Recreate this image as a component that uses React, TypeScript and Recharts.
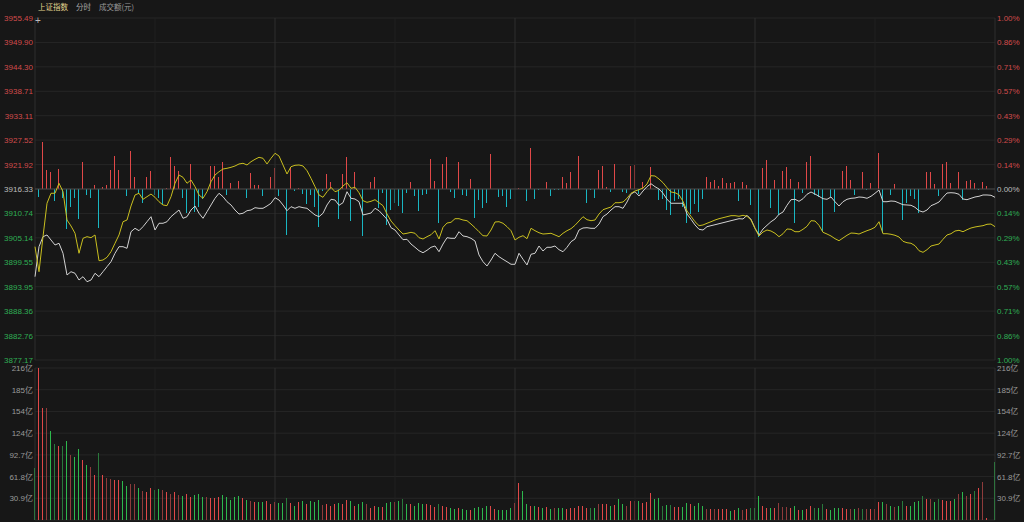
import { ComposedChart, Bar, Line, XAxis, YAxis, CartesianGrid, ReferenceLine } from "recharts"

// 上证指数 intraday (分时), one point per minute, 9:30 .. 15:00
const PREV_CLOSE = 3916.33

const priceTicks = [
  3877.17, 3882.76, 3888.36, 3893.95, 3899.55, 3905.14, 3910.74, 3916.33,
  3921.92, 3927.52, 3933.11, 3938.71, 3944.3, 3949.9, 3955.49,
]
const volumeTicks = [30.9, 61.8, 92.7, 123.6, 154.5, 185.4, 216.3]
const volumeTickLabels = ["30.9亿", "61.8亿", "92.7亿", "124亿", "154亿", "185亿", "216亿"]
const minorTimeTicks = [30, 90, 150, 210]
const majorTimeTicks = [60, 120, 180]

const priceLine = [
  3896.25, 3903.12, 3905.41, 3905.8, 3904.65, 3903.51, 3903.9, 3901.61, 3896.64, 3897.39,
  3897.03, 3895.49, 3896.25, 3895.1, 3895.49, 3897.03, 3896.25, 3897.39, 3898.54, 3899.68,
  3901.61, 3903.12, 3903.12, 3902.75, 3906.55, 3907.33, 3906.78, 3907.7, 3908.84, 3909.99,
  3906.94, 3908.48, 3908.48, 3908.84, 3909.99, 3910.77, 3911.52, 3909.62, 3909.99, 3911.52,
  3912.44, 3910.77, 3909.62, 3911.13, 3912.67, 3914.2, 3915.35, 3914.57, 3913.42, 3912.67,
  3911.52, 3910.6, 3910.77, 3911.36, 3911.52, 3912.05, 3911.91, 3911.91, 3912.44, 3913.06,
  3914.34, 3913.81, 3912.67, 3911.36, 3912.28, 3911.91, 3912.28, 3912.05, 3911.91, 3911.13,
  3910.38, 3909.99, 3910.77, 3912.67, 3913.97, 3913.81, 3912.6, 3913.19, 3915.71, 3914.2,
  3914.04, 3913.42, 3910.38, 3910.6, 3910.83, 3911.91, 3911.36, 3910.38, 3909.39, 3907.47,
  3906.94, 3905.8, 3904.72, 3904.81, 3903.73, 3902.98, 3902.2, 3901.74, 3902.29, 3902.98,
  3903.28, 3901.97, 3903.73, 3905.18, 3905.04, 3905.04, 3906.55, 3905.57, 3905.41, 3905.04,
  3904.42, 3901.22, 3899.68, 3898.7, 3900.07, 3901.61, 3900.83, 3900.23, 3899.68, 3899.09,
  3899.09, 3901.61, 3900.23, 3898.93, 3901.38, 3901.61, 3903.28, 3902.13, 3902.98, 3902.98,
  3903.28, 3902.43, 3901.97, 3902.98, 3904.26, 3904.88, 3906.94, 3907.4, 3907.47, 3907.33,
  3907.33, 3908.31, 3909.99, 3910.6, 3911.52, 3912.28, 3912.28, 3911.91, 3913.35, 3915.18,
  3915.71, 3914.73, 3915.87, 3916.86, 3917.54, 3916.86, 3916.33, 3915.35, 3913.97, 3913.06,
  3913.06, 3913.06, 3913.06, 3910.6, 3909.39, 3908.09, 3907.1, 3906.94, 3907.7, 3907.93,
  3908.15, 3908.38, 3908.61, 3908.84, 3909.07, 3909.3, 3909.53, 3909.46, 3910.31, 3909.39,
  3907.33, 3905.8, 3907.17, 3908.02, 3908.84, 3909.46, 3910.54, 3911.06, 3912.6, 3913.88,
  3913.97, 3913.51, 3914.11, 3915.12, 3915.64, 3915.18, 3914.66, 3914.11, 3913.97, 3914.5,
  3913.42, 3912.44, 3913.42, 3913.97, 3914.2, 3914.27, 3914.5, 3914.43, 3914.2, 3914.66,
  3915.35, 3916.1, 3913.42, 3913.42, 3913.58, 3913.51, 3913.12, 3912.73, 3912.67, 3912.6,
  3912.14, 3911.36, 3911.06, 3911.52, 3912.51, 3912.89, 3913.35, 3914.43, 3915.41, 3915.48,
  3915.41, 3915.12, 3914.04, 3913.88, 3914.2, 3914.5, 3914.66, 3914.96, 3914.96, 3914.89,
  3914.43,
]

const avgLine = [
  3903.12, 3897.39, 3905.41, 3913.06, 3915.35, 3915.35, 3917.64, 3915.71, 3909.23, 3907.86,
  3906.19, 3901.61, 3905.04, 3905.41, 3905.18, 3905.8, 3899.91, 3900.07, 3900.69, 3901.97,
  3903.9, 3905.8, 3908.84, 3909.23, 3912.44, 3914.96, 3915.35, 3913.97, 3914.57, 3915.18,
  3914.43, 3913.42, 3912.67, 3912.51, 3914.57, 3917.64, 3919.54, 3919.01, 3917.64, 3918.39,
  3916.86, 3914.96, 3914.2, 3915.71, 3918.0, 3919.54, 3920.29, 3920.91, 3921.07, 3921.3,
  3921.6, 3922.06, 3922.22, 3921.83, 3922.58, 3923.13, 3923.59, 3923.36, 3922.06, 3923.36,
  3924.51, 3923.89, 3921.83, 3919.77, 3921.44, 3921.76, 3921.83, 3921.6, 3920.52, 3918.78,
  3916.86, 3914.96, 3914.43, 3915.71, 3916.72, 3915.71, 3916.03, 3917.02, 3917.77, 3916.49,
  3916.72, 3915.48, 3913.65, 3913.28, 3913.51, 3913.88, 3913.19, 3912.51, 3910.6, 3909.0,
  3907.93, 3906.94, 3906.02, 3906.19, 3906.41, 3906.19, 3905.18, 3904.88, 3905.41, 3905.86,
  3906.78, 3904.88, 3907.56, 3908.54, 3908.7, 3909.53, 3909.53, 3909.23, 3909.07, 3908.31,
  3907.47, 3906.55, 3905.64, 3905.57, 3906.94, 3908.77, 3908.84, 3908.48, 3907.7, 3906.78,
  3904.65, 3905.27, 3905.64, 3904.95, 3907.33, 3906.78, 3906.32, 3906.02, 3906.09, 3906.19,
  3905.8, 3905.41, 3906.19, 3906.78, 3907.24, 3908.02, 3909.0, 3909.99, 3909.3, 3909.07,
  3909.23, 3910.6, 3911.59, 3911.91, 3912.21, 3913.19, 3913.19, 3913.35, 3914.2, 3915.35,
  3915.87, 3916.17, 3916.56, 3917.48, 3919.38, 3919.31, 3918.62, 3917.77, 3916.63, 3915.64,
  3915.48, 3915.02, 3913.51, 3911.29, 3910.08, 3908.84, 3907.93, 3908.09, 3908.48, 3908.84,
  3909.23, 3909.53, 3909.76, 3909.99, 3910.22, 3910.22, 3910.08, 3910.31, 3910.08, 3909.23,
  3907.33, 3905.57, 3906.48, 3906.94, 3906.71, 3906.19, 3905.41, 3906.09, 3907.17, 3907.1,
  3906.55, 3906.55, 3907.1, 3907.79, 3909.07, 3909.0, 3908.02, 3906.41, 3906.02, 3905.57,
  3904.95, 3904.49, 3905.11, 3905.73, 3906.25, 3906.19, 3906.02, 3906.41, 3906.78, 3907.1,
  3907.56, 3908.84, 3906.09, 3906.09, 3905.96, 3905.73, 3905.34, 3904.35, 3904.03, 3903.9,
  3903.35, 3902.2, 3901.83, 3902.43, 3903.28, 3903.51, 3903.73, 3904.81, 3905.8, 3906.09,
  3906.71, 3906.87, 3906.55, 3907.01, 3907.4, 3907.63, 3907.79, 3907.93, 3908.25, 3908.31,
  3907.7,
]

// up/down bars around the previous close, scale -100..100
const flowBars = [
  0, -4.9, 27.7, 11, 9.7, -6.8, 11.5, -5.5, -23.6, -10.3,
  -5.5, -17.5, 15.6, -3.5, -5.5, 2.3, -23, 1, 2.3, 11,
  19.3, 11.3, 0, -4.1, 22.2, 7.2, -2.9, -8.4, 7.2, 10.7,
  -3.5, -5.5, -9, 0.5, 18.5, 13.5, 10.4, -5.5, -13.8, 14.6,
  -13.3, -10.3, -6, 0, 13.3, 13.7, 6.8, 16, -3.5, 3.3,
  0, 4.7, 0, -5.5, 9.5, 2.3, 2.3, -4.1, 0, 7.2,
  12.4, -4.1, 0, -26.9, 12.6, -1, 0.5, -2.9, -8.8, -3.5,
  -10.3, -22, -1, 8.8, 3.9, 0, -17.5, 8.8, 18.5, -19,
  10, 0, -27.3, 0, 4.3, 7.2, -11.3, -2.5, -21, -12.3,
  -8.4, -9.7, -13.8, -2.5, 4.3, -3.9, -12.8, -3.5, -2.9, 17.5,
  4.7, -19.7, 14.6, 18.5, -1.6, -5.5, 15.6, -3.5, -4.1, 6,
  -17, -6.4, -11.3, -8.4, 20.5, 0, -4.9, -4.1, -10.7, -6,
  0, 0.5, 0, -7, 23.8, -6, -0.5, 0, 4.3, -4.1,
  -0.5, -0.5, 7.2, 3.3, 10, 0, 19.5, 0, -8.4, -0.8,
  -5.5, 11, 13.7, 1.4, -2, 14.6, 0, -1.5, -2.5, 13.7,
  14, -2.9, 3.9, 0, 12.6, 0, -6.4, -6, -12.3, -15,
  -7, -6, -10.3, -19.7, -14.6, -8.8, -13.3, -6, 7.2, 4.3,
  5.3, 2, 6.2, 3.3, 3.3, 3.9, -6.8, 3.9, 2.3, -9.4,
  0, -27.9, 12, 17, -11.3, 5.3, -15.2, 10.7, 13, 6,
  -20, 3.9, -2.5, 16, 19.5, -3.5, -4.5, -24.4, 0, -4.9,
  -13.3, 0, 10.7, 13.7, 5.3, -3.5, 0, 9.7, -0.8, 3.3,
  0, 21.2, -26, 0, -3.5, 2.9, 0, -18, -8, -4,
  -6, -14, 0, 9.7, 10, 2.9, -4.1, 14.6, 16, 3.3,
  0, 9.7, -6.4, 4.9, 5.3, 3.3, -0.8, 4.3, 2, 0,
  0,
]

// 成交额, 亿元
const volume = [
  73.6, 216, 159, 159, 126.7, 108, 105.8, 106, 112, 93,
  89.2, 101.6, 85, 78.3, 75.5, 63.6, 95.4, 64.5, 59.3, 58,
  57, 57, 55, 48.4, 51.3, 51.7, 46, 41.3, 39.9, 46,
  43.2, 43.7, 42.7, 40.4, 36.5, 40, 35.6, 33.7, 36.5, 33,
  35, 36.8, 33, 33, 31.3, 31.7, 33, 36, 33, 29,
  33, 33.7, 30.8, 28.5, 27, 26, 25.6, 26, 27, 23.3,
  25, 24.5, 24.5, 31.3, 24.5, 20.4, 25, 27, 22.3, 27.5,
  25.6, 28.5, 21.8, 23, 20, 23, 23.7, 23, 28.5, 27.5,
  19.5, 22.3, 25.6, 23, 17.6, 20, 18.5, 18.5, 24.5, 25.6,
  26, 27.5, 29.4, 23.3, 23, 20, 24.5, 22.3, 23.3, 21.8,
  18.5, 23, 20.4, 18.5, 17, 15.2, 17, 15.2, 14.2, 14.2,
  17, 18.5, 17.6, 19.5, 20, 15.2, 14.2, 14.2, 14.2, 17,
  24.5, 53, 41.3, 23, 20, 20, 18.5, 17, 18.5, 16,
  17.6, 17, 17.6, 16, 17, 17, 20.4, 20.4, 17.6, 17.6,
  17, 22.3, 23, 23, 19.5, 21.8, 29.4, 23, 19.5, 27.5,
  27, 27, 24.5, 25, 38.4, 29.9, 31.3, 20, 21.8, 21.8,
  18.5, 18.5, 18.5, 24.5, 23, 20, 24.5, 20, 15.2, 15.2,
  16, 15.2, 15.2, 15.2, 13.3, 14.2, 17, 14.2, 15.2, 17.6,
  17, 33.7, 20, 17, 17, 17.6, 24.5, 18.5, 18.5, 17,
  20, 14.2, 14.2, 15.2, 20, 17, 17, 23, 15.6, 14.2,
  17.6, 17.6, 17.6, 16, 16, 16, 17, 15.6, 15.6, 16,
  16, 26, 25.6, 23, 20, 18.5, 20.4, 27.5, 20.4, 20,
  25, 27.5, 34.6, 29.9, 29.4, 25.6, 29.9, 28.5, 27.5, 27.5,
  29.9, 37, 40, 34.2, 37, 41.3, 45.6, 54, 2.8, 0,
  82.6,
]

// r = up, g = down, upper case = weak
const volumeDir =
  "grrRgGrGgR" + "ggrgRrGrRR" + "rrggRRgRrr" + "ggRrRrRgrr" + "gggRrrrggg" +
  "ggrgRrggrr" + "rggGrgrgrg" + "ggRrrrgrrg" + "rggRrrgrgg" + "rgGgrgggrr" +
  "rGrrggrggr" + "ggggrrgggg" + "rrggrgrgrg" + "RggrrrrrrG" + "gRrrgrggRr" +
  "RgrrrggGgG" + "rrggrgggRr" + "RrrrgrgRrG" + "ggrrgrRRRr" + "grgrrGgGrg" +
  "ggrrRgRGRr" + "rrgRgRgGrg" + "ggGrRgGrrr" + "gRgRrGrRrr" + "g"

const BG = "#171717"
const GRID = "#262626"
const RED = "#e04848"
const GREEN = "#2db84d"
const FONT = "'Liberation Sans', 'Noto Sans CJK SC', sans-serif"

const dirColor: Record<string, string> = {
  r: RED,
  R: "#8e3b3b",
  g: GREEN,
  G: "#2a7a3c",
}

const data = priceLine.map((p, i) => ({
  t: i,
  price: p,
  avg: avgLine[i],
  flow: flowBars[i],
  vol: volume[i],
  dir: volumeDir[i],
}))

function priceColor(v: number) {
  if (Math.abs(v - PREV_CLOSE) < 0.005) return "#bdbdbd"
  return v > PREV_CLOSE ? "#d24b4b" : "#2fae55"
}

const LeftPriceTick = ({ y, payload }: any) => (
  <text x={33} y={y} dy={3} textAnchor="end" fill={priceColor(payload.value)} fontSize={8} fontFamily={FONT}>
    {payload.value.toFixed(2)}
  </text>
)

const RightPctTick = ({ y, payload }: any) => {
  const pct = Math.abs(((payload.value - PREV_CLOSE) / PREV_CLOSE) * 100)
  return (
    <text x={997} y={y} dy={3} textAnchor="start" fill={priceColor(payload.value)} fontSize={8} fontFamily={FONT}>
      {pct.toFixed(2)}%
    </text>
  )
}

const volLabel = (v: number) => volumeTickLabels[volumeTicks.indexOf(v)] ?? ""

const LeftVolTick = ({ y, payload }: any) => (
  <text x={33} y={y} dy={3} textAnchor="end" fill="#9a9a9a" fontSize={8} fontFamily={FONT}>
    {volLabel(payload.value)}
  </text>
)

const RightVolTick = ({ y, payload }: any) => (
  <text x={997} y={y} dy={3} textAnchor="start" fill="#9a9a9a" fontSize={8} fontFamily={FONT}>
    {volLabel(payload.value)}
  </text>
)

// 1px bars snapped to the pixel grid
const FlowShape = (props: any) => {
  const { x, y, width, height, payload } = props
  if (!payload.flow) return null
  const top = Math.min(y, y + height)
  const h = Math.max(Math.abs(height), 1)
  return (
    <rect x={Math.round(x + width / 2) - 1} y={top} width={1} height={h}
      fill={payload.flow > 0 ? RED : "#19b6c2"} shapeRendering="crispEdges" />
  )
}

const VolShape = (props: any) => {
  const { x, y, width, height, payload } = props
  if (!payload.vol) return null
  return (
    <rect x={Math.round(x + width / 2) - 1} y={y} width={1} height={Math.max(height, 1)}
      fill={dirColor[payload.dir] ?? GREEN} shapeRendering="crispEdges" />
  )
}

function timeLines(yAxisId: string) {
  return [
    ...minorTimeTicks.map((t) => (
      <ReferenceLine key={`m${t}`} yAxisId={yAxisId} x={t} stroke="#212121" />
    )),
    ...majorTimeTicks.map((t) => (
      <ReferenceLine key={`M${t}`} yAxisId={yAxisId} x={t} stroke="#2e2e2e" />
    )),
    <ReferenceLine key="l" yAxisId={yAxisId} x={0} stroke="#2e2e2e" />,
    <ReferenceLine key="r" yAxisId={yAxisId} x={240} stroke="#2e2e2e" />,
  ]
}

export default function App() {
  return (
    <div style={{ position: "absolute", left: 0, top: 0, width: 1024, height: 522, background: BG, overflow: "hidden" }}>
      <div style={{ position: "absolute", left: 0, top: 0 }}>
        <ComposedChart width={1024} height={522} data={data} margin={{ top: 368, right: 0, bottom: 2, left: 0 }}>
          <XAxis dataKey="t" type="number" domain={[0, 240]} hide />
          <YAxis yAxisId="vol" orientation="left" width={35} domain={[0, 216.3]} ticks={volumeTicks}
            allowDataOverflow axisLine={false} tickLine={false} tick={<LeftVolTick />} interval={0} />
          <YAxis yAxisId="volR" orientation="right" width={29} domain={[0, 216.3]} ticks={volumeTicks}
            allowDataOverflow axisLine={false} tickLine={false} tick={<RightVolTick />} interval={0} />
          <CartesianGrid yAxisId="vol" vertical={false} stroke={GRID} />
          {timeLines("vol")}
          <Bar yAxisId="vol" dataKey="vol" barSize={1} shape={<VolShape />} isAnimationActive={false} />
        </ComposedChart>
      </div>

      <div style={{ position: "absolute", left: 0, top: 0 }}>
        <ComposedChart width={1024} height={372} data={data} margin={{ top: 18, right: 0, bottom: 12, left: 0 }}>
          <XAxis dataKey="t" type="number" domain={[0, 240]} hide />
          <YAxis yAxisId="price" orientation="left" width={35} domain={[3877.17, 3955.49]} ticks={priceTicks}
            allowDataOverflow axisLine={false} tickLine={false} tick={<LeftPriceTick />} interval={0} />
          <YAxis yAxisId="pct" orientation="right" width={29} domain={[3877.17, 3955.49]} ticks={priceTicks}
            allowDataOverflow axisLine={false} tickLine={false} tick={<RightPctTick />} interval={0} />
          <YAxis yAxisId="flow" hide domain={[-100, 100]} allowDataOverflow />
          <CartesianGrid yAxisId="price" vertical={false} stroke={GRID} />
          {timeLines("price")}
          <ReferenceLine yAxisId="price" y={PREV_CLOSE} stroke="#464646" />
          <Bar yAxisId="flow" dataKey="flow" barSize={1} shape={<FlowShape />} isAnimationActive={false} />
          <Line yAxisId="price" dataKey="price" stroke="#d2d2d2" strokeWidth={1} dot={false} activeDot={false} isAnimationActive={false} />
          <Line yAxisId="price" dataKey="avg" stroke="#c9bf1f" strokeWidth={1} dot={false} activeDot={false} isAnimationActive={false} />
        </ComposedChart>
      </div>

      <div style={{ position: "absolute", left: 38, top: 1, fontSize: 7.5, fontFamily: "'Noto Sans CJK SC', sans-serif", whiteSpace: "nowrap" }}>
        <span style={{ color: "#e3d58f" }}>上证指数</span>
        <span style={{ color: "#a8a8a8", marginLeft: 8 }}>分时</span>
        <span style={{ color: "#9a9a9a", marginLeft: 8 }}>成交额(元)</span>
      </div>
      <div style={{ position: "absolute", left: 35, top: 15, fontSize: 10, color: "#bbbbbb", fontFamily: FONT }}>+</div>
    </div>
  )
}
